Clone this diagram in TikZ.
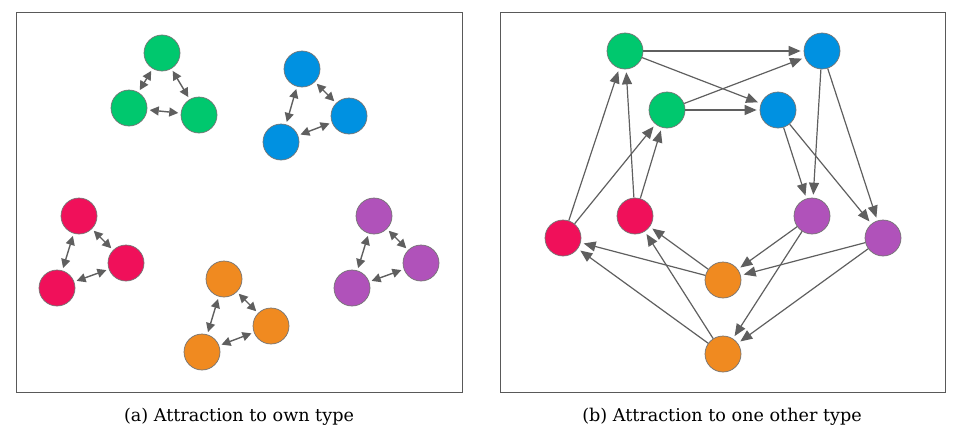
\documentclass[tikz,border=0pt]{standalone}
\usepackage{fontspec}
\newfontfamily\capfont{DejaVu Serif}
\usetikzlibrary{arrows.meta}
\definecolor{cgreen}{RGB}{0,200,110}
\definecolor{cblue}{RGB}{0,145,225}
\definecolor{cred}{RGB}{240,16,90}
\definecolor{corange}{RGB}{240,138,32}
\definecolor{cpurple}{RGB}{176,82,186}
\definecolor{cedge}{RGB}{95,95,95}
\begin{document}
\begin{tikzpicture}[x=1pt,y=-1pt,
  dot/.style={circle,minimum size=36pt,inner sep=0pt,draw=black!55,line width=0.7pt},
  panel/.style={draw=black!65,line width=1pt},
  dbl/.style={cedge,line width=1.4pt,{Triangle[length=9pt,width=9pt]}-{Triangle[length=9pt,width=9pt]},shorten <=2.5pt,shorten >=2.5pt},
  one/.style={cedge,line width=1.2pt,-{Triangle[length=12pt,width=10pt]},shorten >=3pt},
  captext/.style={font=\capfont\fontsize{17.6}{21}\selectfont,anchor=base}]
\useasboundingbox (0,0) rectangle (960,439);
\draw[panel] (16,12) rectangle (462,392);
\draw[panel] (500,12) rectangle (945,392);
% left panel
\node[dot,fill=cgreen] (g1) at (162,53) {};
\node[dot,fill=cgreen] (g2) at (129,108) {};
\node[dot,fill=cgreen] (g3) at (199,115) {};
\node[dot,fill=cblue] (b1) at (302,69) {};
\node[dot,fill=cblue] (b2) at (349,116) {};
\node[dot,fill=cblue] (b3) at (281,142) {};
\node[dot,fill=cred] (r1) at (79,216) {};
\node[dot,fill=cred] (r2) at (126,263) {};
\node[dot,fill=cred] (r3) at (57,288) {};
\node[dot,fill=corange] (o1) at (224,279) {};
\node[dot,fill=corange] (o2) at (271,326) {};
\node[dot,fill=corange] (o3) at (202,352) {};
\node[dot,fill=cpurple] (p1) at (374,216) {};
\node[dot,fill=cpurple] (p2) at (421,263) {};
\node[dot,fill=cpurple] (p3) at (352,288) {};
\foreach \a/\b in {g1/g2,g1/g3,g2/g3,b1/b2,b1/b3,b2/b3,r1/r2,r1/r3,r2/r3,o1/o2,o1/o3,o2/o3,p1/p2,p1/p3,p2/p3}
  \draw[dbl] (\a) -- (\b);
% right panel
\node[dot,fill=cgreen] (G1) at (625,51) {};
\node[dot,fill=cgreen] (G2) at (667,110) {};
\node[dot,fill=cblue] (B1) at (822,51) {};
\node[dot,fill=cblue] (B2) at (778,110) {};
\node[dot,fill=cred] (R1) at (563,238) {};
\node[dot,fill=cred] (R2) at (635,216) {};
\node[dot,fill=cpurple] (P1) at (812,216) {};
\node[dot,fill=cpurple] (P2) at (883,238) {};
\node[dot,fill=corange] (O1) at (723,280) {};
\node[dot,fill=corange] (O2) at (723,354) {};
\foreach \a/\b in {G1/B1,G1/B2,G2/B1,G2/B2,B1/P1,B1/P2,B2/P1,B2/P2,P1/O1,P1/O2,P2/O1,P2/O2,O1/R1,O1/R2,O2/R1,O2/R2,R1/G1,R1/G2,R2/G1,R2/G2}
  \draw[one] (\a) -- (\b);
% captions
\node[captext] (ca) at (239,421) {(a) Attraction to own type};
\node[captext] (cb) at (722,421) {(b) Attraction to one other type};
\end{tikzpicture}
\end{document}
